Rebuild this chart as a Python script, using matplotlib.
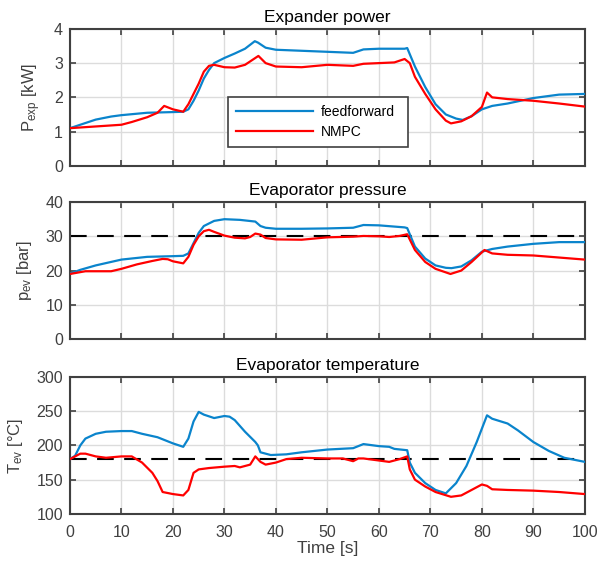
import matplotlib
matplotlib.use("Agg")
import matplotlib.pyplot as plt

plt.rcParams['font.family'] = ['Liberation Sans', 'DejaVu Sans']
plt.rcParams['mathtext.fontset'] = 'custom'
plt.rcParams['mathtext.rm'] = 'Liberation Sans'

# ---- Expander power [kW] ----
t_p_ff = [0, 2, 5, 8, 10, 15, 20, 22, 23, 24, 25, 26, 27, 28, 30, 32, 34, 35.9, 36.5, 38, 40, 45, 50, 55, 57, 60, 65, 65.5,
          67, 69, 71, 73, 75, 76.3, 78, 80, 82, 85, 90, 95, 100]
p_ff = [1.1, 1.2, 1.35, 1.44, 1.48, 1.55, 1.57, 1.58, 1.65, 1.9, 2.2, 2.55, 2.8, 3.0, 3.15, 3.28, 3.42, 3.64, 3.6, 3.45, 3.39, 3.36, 3.33, 3.3, 3.4, 3.42, 3.42, 3.44,
        2.9, 2.3, 1.8, 1.5, 1.38, 1.34, 1.45, 1.65, 1.75, 1.82, 1.98, 2.08, 2.1]
t_p_mpc = [0, 5, 10, 12, 15, 17, 18.3, 20, 22, 23, 24, 25, 26, 27, 28, 30, 32, 34, 35, 36.6, 38, 40, 45, 50, 55, 57, 60, 63, 65, 66,
           67, 69, 71, 73, 74, 76, 78, 80, 81, 82, 85, 90, 95, 100]
p_mpc = [1.1, 1.15, 1.2, 1.28, 1.42, 1.55, 1.75, 1.65, 1.58, 1.8, 2.1, 2.4, 2.75, 2.92, 2.95, 2.88, 2.87, 2.95, 3.05, 3.21, 3.0, 2.9, 2.88, 2.95, 2.92, 2.98, 3.0, 3.02, 3.12, 3.0,
         2.6, 2.1, 1.65, 1.32, 1.24, 1.3, 1.45, 1.72, 2.14, 2.0, 1.95, 1.9, 1.82, 1.73]

# ---- Evaporator pressure [bar] ----
t_pev_ff = [0, 2, 5, 10, 15, 20, 22, 23, 24, 25, 26, 28, 30, 33, 36, 37, 38, 40, 45, 50, 55, 57, 60, 65, 65.5,
            67, 69, 71, 73, 74.1, 76, 78, 80, 82, 85, 90, 95, 100]
pev_ff = [19.1, 20.2, 21.5, 23.2, 24.0, 24.2, 24.3, 25.0, 28.0, 31.0, 33.0, 34.5, 35.0, 34.8, 34.3, 33.0, 32.5, 32.2, 32.2, 32.3, 32.5, 33.3, 33.2, 32.6, 32.4,
          27.0, 23.5, 21.5, 20.8, 20.7, 21.2, 23.0, 25.5, 26.3, 27.0, 27.8, 28.3, 28.3]
t_pev_mpc = [0, 3, 8, 10, 13, 16, 18, 19, 20, 22, 23, 24, 25, 26, 27, 28, 30, 32, 34, 35, 36, 37, 38, 40, 45, 50, 55, 57, 60, 62, 64, 65.5,
             67, 69, 71, 73.9, 76, 78, 80.5, 82, 85, 90, 95, 100]
pev_mpc = [19.0, 19.8, 19.8, 20.5, 21.8, 22.8, 23.4, 23.3, 22.7, 22.1, 24.0, 27.5, 30.0, 31.5, 31.9, 31.3, 30.2, 29.6, 29.4, 29.8, 30.8, 30.5, 29.5, 29.1, 29.0, 29.7, 29.9, 30.1, 30.0, 29.8, 30.1, 30.6,
           26.0, 22.5, 20.5, 19.0, 20.0, 22.5, 26.0, 25.0, 24.6, 24.4, 23.8, 23.2]
pev_ref = 30

# ---- Evaporator temperature [°C] ----
t_tev_ff = [0, 1, 2, 3, 5, 7, 10, 12, 14, 17, 20, 22, 23, 24, 25, 26, 28, 30, 31, 32, 34, 36, 36.5, 37, 39, 42, 45, 50, 55, 57, 60, 62, 63, 65.5,
            66, 67, 69, 71, 73, 75, 77, 79, 81, 82, 85, 87, 90, 93, 96, 100]
tev_ff = [180, 185, 200, 210, 217, 220, 221, 221, 217, 212, 203, 198, 210, 235, 249, 245, 240, 243, 242, 237, 220, 205, 200, 190, 186, 187, 190, 194, 196, 202, 199, 198, 195, 193,
          175, 160, 145, 135, 130, 145, 170, 205, 244, 239, 232, 222, 205, 192, 182, 176]
t_tev_mpc = [0, 2, 3, 5, 7, 10, 12, 14, 16, 17, 18, 20, 22, 23, 24, 25, 27, 30, 32, 33, 35, 36, 37, 38, 40, 42, 45, 50, 53, 55, 56, 57, 60, 62, 64, 65.5,
             66, 67, 69, 71, 74, 76, 78, 80, 81, 82, 85, 90, 95, 100]
tev_mpc = [180, 188, 188, 184, 182, 184, 184, 175, 160, 148, 132, 129, 127, 135, 160, 165, 167, 169, 170, 168, 172, 184, 176, 172, 175, 180, 182, 181, 181, 177, 181, 181, 178, 176, 180, 184,
           165, 150, 140, 132, 125, 127, 135, 143, 141, 136, 135, 134, 132, 129]
tev_ref = 180

titles = ['Expander power', 'Evaporator pressure', 'Evaporator temperature']
ylabels = [r'$\mathregular{P_{exp}}$ [kW]', r'$\mathregular{p_{ev}}$ [bar]', r'$\mathregular{T_{ev}}$ [°C]']
yticks = [[0, 1, 2, 3, 4], [0, 10, 20, 30, 40], [100, 150, 200, 250, 300]]
xticks = [0, 10, 20, 30, 40, 50, 60, 70, 80, 90, 100]

blue = '#0a84cc'
red = '#ff0000'
gray = '#404040'

fig = plt.figure(figsize=(5.98, 5.66), dpi=100)
left, width = 0.117, 0.861
bottoms = [0.707, 0.401, 0.092]
height = 0.242

data = [
    (t_p_ff, p_ff, t_p_mpc, p_mpc, None),
    (t_pev_ff, pev_ff, t_pev_mpc, pev_mpc, pev_ref),
    (t_tev_ff, tev_ff, t_tev_mpc, tev_mpc, tev_ref),
]

for i, (tf, yf, tm, ym, ref) in enumerate(data):
    ax = fig.add_axes([left, bottoms[i], width, height])
    if ref is not None:
        ax.axhline(ref, color='black', lw=1.5, dashes=(8, 5), zorder=1)
    ax.plot(tf, yf, color=blue, lw=1.6, label='feedforward', zorder=3)
    ax.plot(tm, ym, color=red, lw=1.6, label='NMPC', zorder=4)
    ax.set_xlim(0, 100)
    ax.set_ylim(yticks[i][0], yticks[i][-1])
    ax.set_yticks(yticks[i])
    ax.set_xticks(xticks)
    ax.grid(True, color='#dcdcdc', lw=1.0)
    ax.set_axisbelow(True)
    ax.tick_params(direction='in', top=True, right=True, length=4, width=1.2,
                   colors=gray, labelsize=11.5, labelcolor=gray)
    ax.tick_params(axis='x', pad=8)
    ax.tick_params(axis='y', pad=5)
    for s in ax.spines.values():
        s.set_color(gray)
        s.set_linewidth(1.5)
    ax.set_title(titles[i], fontsize=12.5, color='black', pad=5)
    ax.set_ylabel(ylabels[i], fontsize=12, color=gray, labelpad=8)
    if i < 2:
        ax.set_xticklabels([])
    else:
        ax.set_xlabel('Time [s]', fontsize=12.5, color=gray, labelpad=1)
    if i == 0:
        leg = ax.legend(loc='lower left', bbox_to_anchor=(0.307, 0.139, 0.349, 0.34),
                        mode='expand', borderaxespad=0, fontsize=10, handlelength=5.6,
                        labelspacing=0.45, borderpad=0.55, handletextpad=0.5,
                        fancybox=False, framealpha=1, edgecolor=gray)
        leg.get_frame().set_linewidth(1.2)

fig.savefig('out.png', dpi=100)
